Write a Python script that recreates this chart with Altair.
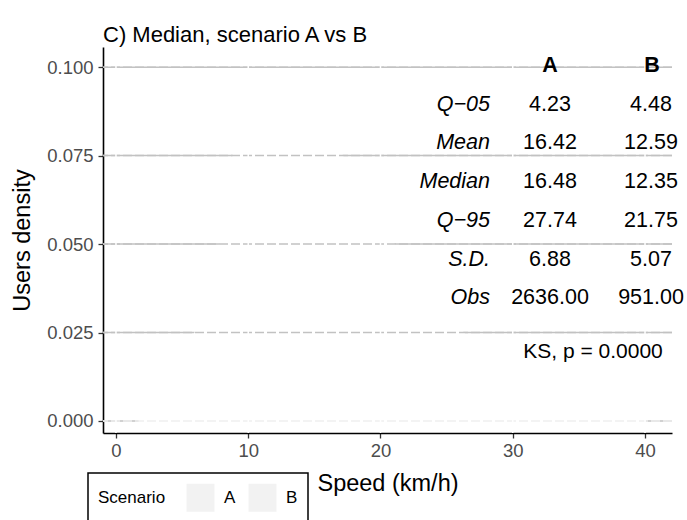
import altair as alt
import pandas as pd

# ---- data ----
speed_grid = [1.8, 3, 4, 5, 6, 7, 8, 9, 10, 11, 12, 13, 14, 15, 16, 17, 18, 19, 20,
              21, 22, 23, 24, 25, 26, 28, 30, 32, 34, 36, 38, 40]
dens_A = [0.0008, 0.003, 0.006, 0.009, 0.013, 0.017, 0.022, 0.027, 0.032,
          0.037, 0.042, 0.046, 0.050, 0.053, 0.056, 0.057, 0.057, 0.055, 0.053,
          0.050, 0.046, 0.041, 0.036, 0.031, 0.026, 0.017, 0.010, 0.006, 0.003, 0.0015, 0.0007, 0.0002]
dens_B = [0.0008, 0.004, 0.009, 0.016, 0.025, 0.036, 0.052, 0.078, 0.090,
          0.095, 0.097, 0.096, 0.093, 0.088, 0.082, 0.076, 0.066, 0.052, 0.038,
          0.026, 0.017, 0.010, 0.006, 0.003, 0.0015, 0.0005, 0.0, 0.0, 0.0, 0.0, 0.0, 0.0]

scenarios = ["A", "B"]
stat_labels = ["Q\u221205", "Mean", "Median", "Q\u221295", "S.D.", "Obs"]
stat_A = ["4.23", "16.42", "16.48", "27.74", "6.88", "2636.00"]
stat_B = ["4.48", "12.59", "12.35", "21.75", "5.07", "951.00"]
ks_text = "KS, p = 0.0000"

y_ticks = [0.0, 0.025, 0.05, 0.075, 0.1]
x_ticks = [0, 10, 20, 30, 40]

FONT = "Liberation Sans"
GRID = "#C2C2C2"

dens_df = pd.DataFrame({
    "speed": speed_grid * 2,
    "density": dens_A + dens_B,
    "Scenario": ["A"] * len(speed_grid) + ["B"] * len(speed_grid),
})
grid_df = pd.DataFrame({"level": y_ticks})
xgrid_df = pd.DataFrame({"xv": x_ticks})

rows = list(range(1, len(stat_labels) + 1))
tab_df = pd.DataFrame({"row": rows, "label": stat_labels, "A": stat_A, "B": stat_B})
head_df = pd.DataFrame({"row": [0, 0], "col": scenarios})

xs = alt.Scale(domain=[-0.98, 42.04], nice=False, zero=False)
ys = alt.Scale(domain=[-0.0034, 0.1057], nice=False, zero=False)

base = alt.Chart(dens_df)

solid = alt.Chart(grid_df).mark_rule(strokeWidth=1.5, color=GRID).encode(
    y=alt.Y("level:Q", scale=ys,
            axis=alt.Axis(values=y_ticks, format=".3f", title="Users density", grid=False)),
)

areas = base.mark_area(stroke="white", strokeWidth=2, fill="white", opacity=1).encode(
    x=alt.X("speed:Q", scale=xs,
            axis=alt.Axis(values=x_ticks, title="Speed (km/h)", grid=False, format="d")),
    y=alt.Y("density:Q", scale=ys, stack=None),
    detail="Scenario:N",
)

legend_pts = base.mark_point(filled=True, opacity=0, color="#F2F2F2").encode(
    x=alt.X("speed:Q", scale=xs),
    y=alt.Y("density:Q", scale=ys),
    shape=alt.Shape("Scenario:N",
                    scale=alt.Scale(domain=scenarios, range=["square", "square"]),
                    legend=alt.Legend(
                        orient="none", legendX=-15, legendY=426, direction="horizontal",
                        titleOrient="left", symbolSize=784,
                        symbolFillColor="#F2F2F2", symbolStrokeColor="#E6E6E6",
                        symbolStrokeWidth=1, symbolOpacity=1,
                    )),
)

dashed = alt.Chart(grid_df).mark_rule(strokeDash=[9, 3], strokeWidth=1.5).encode(
    y=alt.Y("level:Q", scale=ys),
    color=alt.condition(alt.datum.level == 0, alt.value("#EFEFEF"), alt.value(GRID)),
)

xgrid = alt.Chart(xgrid_df).mark_rule(color="white", strokeWidth=1.5).encode(
    x=alt.X("xv:Q", scale=xs),
)

main = alt.layer(solid, areas, legend_pts, dashed, xgrid)

ty = alt.Y("row:Q", scale=alt.Scale(domain=[0, 6], range=[19, 251.2]), axis=None)

lab = alt.Chart(tab_df).mark_text(align="right", baseline="middle", font=FONT,
                                  fontSize=21.5, fontStyle="italic", color="black").encode(
    x=alt.value(387), y=ty, text="label:N")
colA = alt.Chart(tab_df).mark_text(align="center", baseline="middle", font=FONT,
                                   fontSize=21.5, color="black").encode(
    x=alt.value(447), y=ty, text="A:N")
colB = alt.Chart(tab_df).mark_text(align="center", baseline="middle", font=FONT,
                                   fontSize=21.5, color="black").encode(
    x=alt.value(548), y=ty, text="B:N")
headA = alt.Chart(head_df).transform_filter(alt.datum.col == "A").mark_text(
    align="center", baseline="middle", font=FONT, fontSize=21.5, fontWeight="bold",
    color="black").encode(x=alt.value(447), y=ty, text="col:N")
headB = alt.Chart(head_df).transform_filter(alt.datum.col == "B").mark_text(
    align="center", baseline="middle", font=FONT, fontSize=21.5, fontWeight="bold",
    color="black").encode(x=alt.value(549), y=ty, text="col:N")
ks = alt.Chart(pd.DataFrame({"t": [ks_text]})).mark_text(
    align="center", baseline="middle", font=FONT, fontSize=21, color="black").encode(
    x=alt.value(490), y=alt.value(305), text="t:N")

table = alt.layer(lab, colA, colB, headA, headB, ks)

chart = alt.layer(main, table).resolve_scale(y="independent").properties(
    width=569, height=386,
    title=alt.TitleParams("C) Median, scenario A vs B", anchor="start", frame="group",
                          font=FONT, fontSize=22, fontWeight="normal", color="black",
                          offset=-1),
    padding={"left": 103, "top": 47, "right": 15, "bottom": 87},
    autosize=alt.AutoSizeParams(type="none"),
).configure_view(stroke=None).configure_axis(
    domainColor="black", domainWidth=1.6, tickColor="#333333", tickSize=5, tickWidth=1.3,
    labelColor="#4D4D4D", labelFont=FONT, labelFontSize=18.5, titleFont=FONT,
    titleFontSize=23.5, titleFontWeight="normal", titleColor="black",
).configure_axisY(labelPadding=5, titlePadding=12).configure_axisX(labelPadding=3, titlePadding=12
).configure_legend(
    strokeColor="black", strokeWidth=1.5, fillColor="white", padding=10,
    titleFont=FONT, labelFont=FONT, titleFontSize=17, labelFontSize=17,
    titleFontWeight="normal", titleColor="black", labelColor="black",
    titlePadding=20, labelOffset=9, columnPadding=10,
)

chart.save("out.html", embed_options={"renderer": "svg", "actions": False})
